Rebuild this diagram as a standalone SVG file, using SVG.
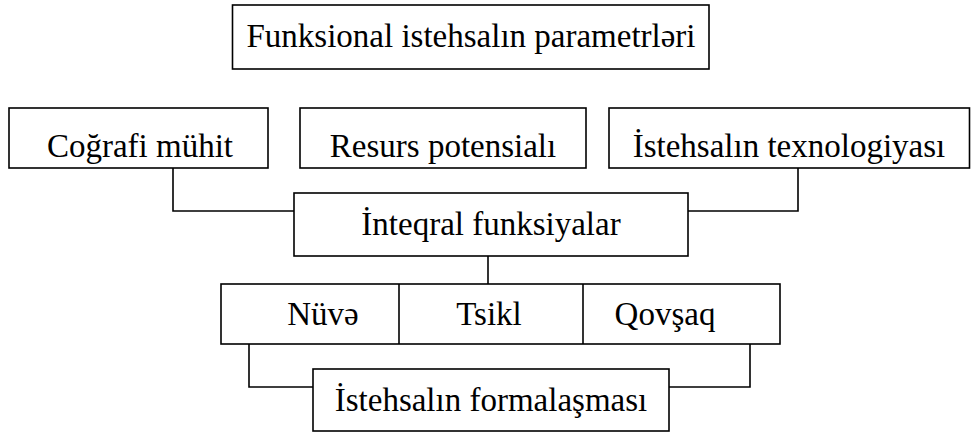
<svg xmlns="http://www.w3.org/2000/svg" width="971" height="432" viewBox="0 0 971 432">
<style>
.box{fill:#fff;stroke:#000;stroke-width:1.6}
.t{font-family:'Liberation Serif','Times New Roman',serif;font-size:33px;fill:#000;text-anchor:middle}
.c{fill:none;stroke:#000;stroke-width:1.6}
</style>
<rect width="971" height="432" fill="#fff"/>
<g id="connectors">
<polyline class="c" points="173,168 173,211 294,211"/>
<polyline class="c" points="798,168 798,211 688,211"/>
<line class="c" x1="488" y1="256" x2="488" y2="284"/>
<polyline class="c" points="249,344 249,387 313,387"/>
<polyline class="c" points="750,344 750,387 669,387"/>
</g>
<g id="title"><rect class="box" x="232.5" y="5" width="476.5" height="64"/><text class="t" x="471" y="47">Funksional istehsalın parametrləri</text></g>
<g id="cografi"><rect class="box" x="9" y="108" width="259" height="60"/><text class="t" x="140" y="157">Coğrafi mühit</text></g>
<g id="resurs"><rect class="box" x="300" y="108" width="286" height="60"/><text class="t" x="443" y="157">Resurs potensialı</text></g>
<g id="texnologiya"><rect class="box" x="609" y="108" width="360.5" height="60"/><text class="t" x="789" y="157">İstehsalın texnologiyası</text></g>
<g id="inteqral"><rect class="box" x="294" y="193" width="394" height="63"/><text class="t" x="491" y="235">İnteqral funksiyalar</text></g>
<g id="row3">
<rect class="box" x="221" y="284" width="559" height="60"/>
<line class="c" x1="399" y1="284" x2="399" y2="344"/>
<line class="c" x1="583" y1="284" x2="583" y2="344"/>
</g>
<g id="nuve"><text class="t" x="323" y="325">Nüvə</text></g>
<g id="tsikl"><text class="t" x="489" y="325">Tsikl</text></g>
<g id="qovsaq"><text class="t" x="665" y="325">Qovşaq</text></g>
<g id="formalasma"><rect class="box" x="313" y="369" width="356" height="62"/><text class="t" x="491" y="411">İstehsalın formalaşması</text></g>
</svg>
